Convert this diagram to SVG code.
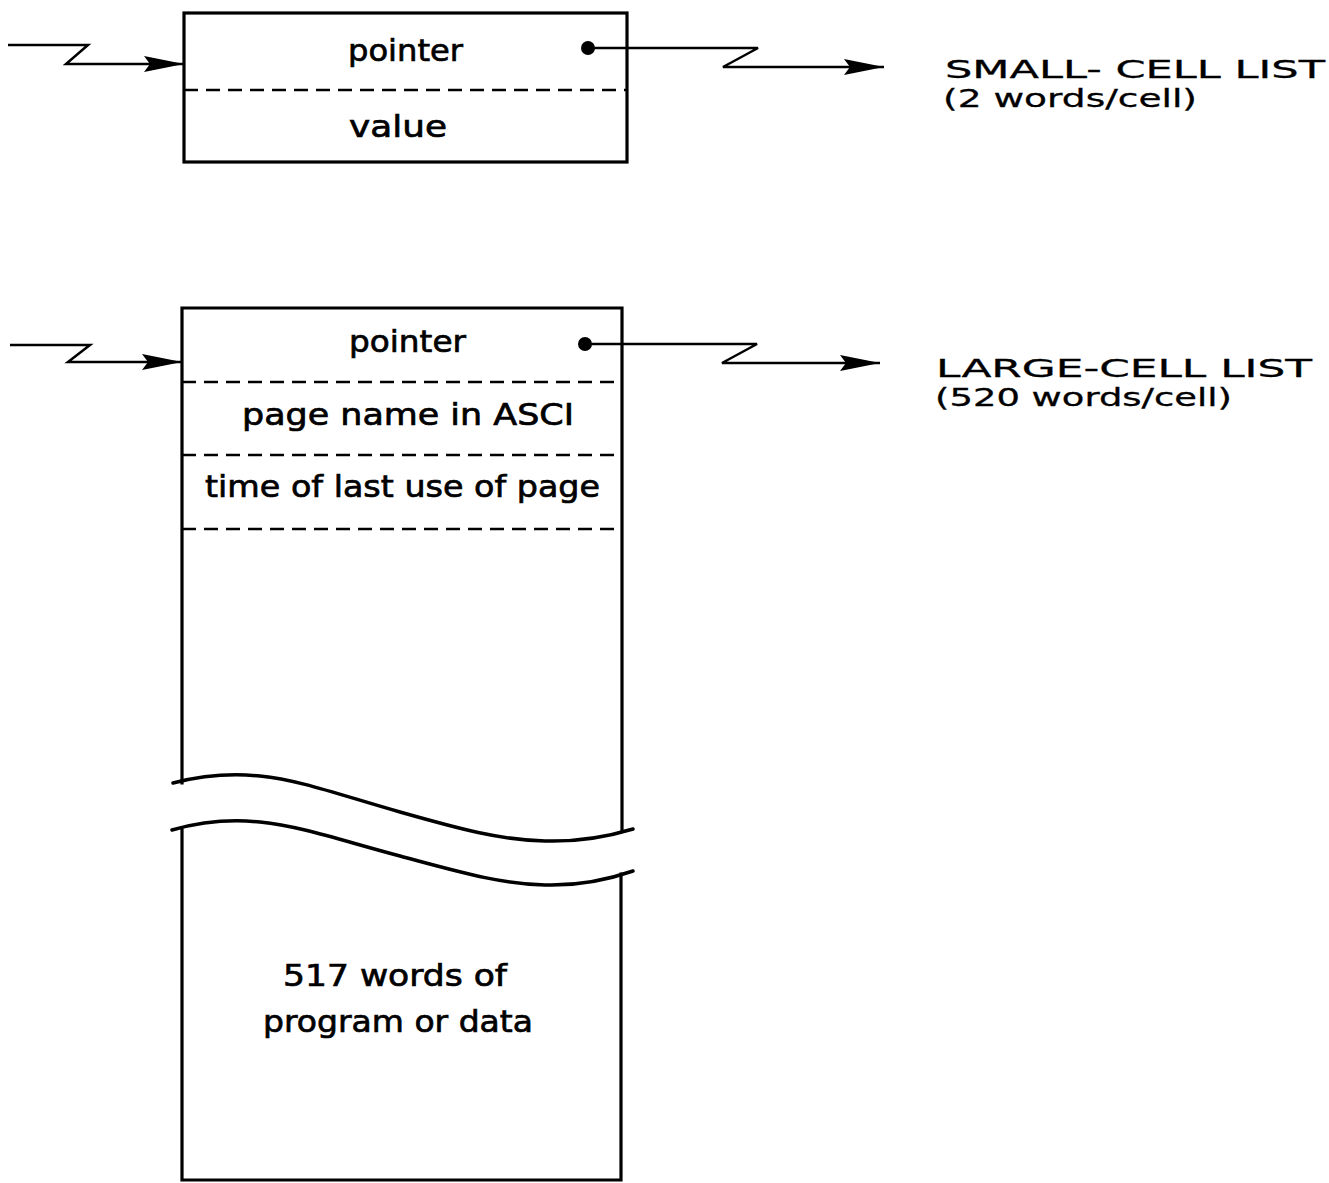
<svg xmlns="http://www.w3.org/2000/svg" width="1329" height="1183" viewBox="0 0 1329 1183">
<style>
  .box { fill: none; stroke: #000; stroke-width: 3.2; stroke-linecap: square; }
  .dash { fill: none; stroke: #000; stroke-width: 2.5; stroke-dasharray: 14 8; }
  .wire { fill: none; stroke: #000; stroke-width: 2.5; stroke-linejoin: miter; }
  .brk { fill: none; stroke: #000; stroke-width: 3.5; stroke-linecap: round; }
  .t { font-family: "DejaVu Sans", "Liberation Sans", sans-serif; font-size: 31px; fill: #000; stroke: #000; stroke-width: 0.7; text-anchor: start; }
  .lbl { font-family: "DejaVu Sans", "Liberation Sans", sans-serif; font-size: 25px; fill: #000; stroke: #000; stroke-width: 0.3; text-anchor: start; }
</style>
<defs>
  <marker id="arr" markerUnits="userSpaceOnUse" markerWidth="42" markerHeight="18" refX="40" refY="8" orient="auto">
    <polygon points="0,0 40,8 0,16 6,8" fill="#000"/>
  </marker>
</defs>
<rect width="1329" height="1183" fill="#fff"/>

<g id="small-cell">
  <rect class="box" x="184" y="13" width="443" height="149"/>
  <line class="dash" x1="184" y1="90" x2="627" y2="90"/>
  <text class="t" x="348" y="61" textLength="115" lengthAdjust="spacingAndGlyphs">pointer</text>
  <text class="t" x="349" y="137" textLength="98" lengthAdjust="spacingAndGlyphs">value</text>
  <circle cx="588" cy="48" r="7" fill="#000"/>
</g>

<g id="large-cell">
  <path class="box" d="M182 783 L182 308 L622 308 L622 831"/>
  <path class="box" d="M182 830 L182 1180 L621 1180 L621 874"/>
  <line class="dash" x1="182" y1="382" x2="622" y2="382"/>
  <line class="dash" x1="182" y1="455" x2="622" y2="455"/>
  <line class="dash" x1="182" y1="529" x2="622" y2="529"/>
  <path class="brk" d="M173 783 C200 776 230 773 260 776 C300 780 340 795 400 812 C460 829 500 840 545 841 C580 842 610 836 633 829"/>
  <path class="brk" d="M172 830 C200 822 230 819 260 822 C300 826 340 840 400 856 C460 872 500 884 545 885 C580 886 610 879 633 871"/>
  <text class="t" x="349" y="352" textLength="117" lengthAdjust="spacingAndGlyphs">pointer</text>
  <text class="t" x="242" y="425" textLength="332" lengthAdjust="spacingAndGlyphs">page name in ASCI</text>
  <text class="t" x="205" y="497" textLength="395" lengthAdjust="spacingAndGlyphs">time of last use of page</text>
  <text class="t" x="283" y="986" textLength="224" lengthAdjust="spacingAndGlyphs">517 words of</text>
  <text class="t" x="263" y="1032" textLength="270" lengthAdjust="spacingAndGlyphs">program or data</text>
  <circle cx="585" cy="344" r="7" fill="#000"/>
</g>

<g id="small-list-label">
  <text class="lbl" x="945" y="78" textLength="380" lengthAdjust="spacingAndGlyphs">SMALL- CELL LIST</text>
  <text class="lbl" x="943" y="107" textLength="254" lengthAdjust="spacingAndGlyphs">(2 words/cell)</text>
</g>

<g id="large-list-label">
  <text class="lbl" x="936" y="377" textLength="376" lengthAdjust="spacingAndGlyphs">LARGE-CELL LIST</text>
  <text class="lbl" x="935" y="406" textLength="297" lengthAdjust="spacingAndGlyphs">(520 words/cell)</text>
</g>

<g id="connectors">
  <path class="wire" d="M8 45 L88 45 L66 64 L184 64" marker-end="url(#arr)"/>
  <path class="wire" d="M588 48 L758 48 L723 67 L884 67" marker-end="url(#arr)"/>
  <path class="wire" d="M10 345 L90 345 L68 362 L182 362" marker-end="url(#arr)"/>
  <path class="wire" d="M585 344 L757 344 L722 363 L880 363" marker-end="url(#arr)"/>
</g>
</svg>
